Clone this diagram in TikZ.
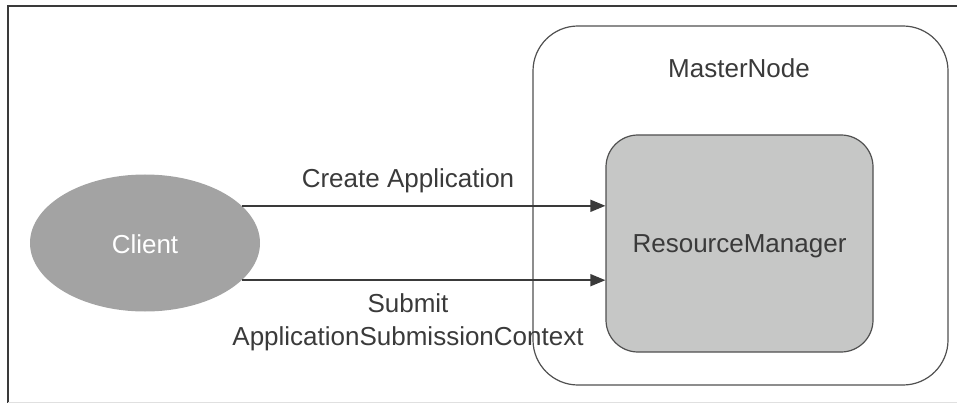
\documentclass[tikz,border=0pt]{standalone}
\usepackage{fontspec}
\setmainfont{Liberation Sans}
\usetikzlibrary{shapes.geometric,arrows.meta}
\definecolor{ink}{HTML}{3A3A3A}
\definecolor{edge}{HTML}{505050}
\definecolor{clientfill}{HTML}{A3A3A3}
\definecolor{rmfill}{HTML}{C6C7C6}
\tikzset{
  lbl/.style={font=\fontsize{26}{30}\selectfont, text=ink, inner sep=0pt, anchor=base},
  framebox/.style={draw=edge, line width=1.2pt, rounded corners=45pt},
  rmbox/.style={draw=edge, line width=1.2pt, fill=rmfill, rounded corners=32pt},
  clientshape/.style={ellipse, fill=clientfill, inner sep=0pt},
  msg/.style={draw=ink, line width=1.5pt, -{Triangle[length=15pt,width=12pt]}},
}
\begin{document}
\begin{tikzpicture}[x=1pt,y=-1pt]
\useasboundingbox (0,0) rectangle (957,403);
% page frame
\draw[line width=2pt, draw=ink] (957,6) -- (8,6) -- (8,403);
\draw[line width=0.8pt, draw=black!12] (8,402) -- (957,402);
% master node container and resource manager
\node[framebox, minimum width=415pt, minimum height=359pt] (master) at (740.5,205.5) {};
\node[lbl] (mastertitle) at (739,78) {MasterNode};
\node[rmbox, minimum width=267pt, minimum height=217pt] (rm) at (739.5,243.5) {};
\node[lbl] (rmtitle) at (739.5,252) {ResourceManager};
% client
\node[clientshape, minimum width=230pt, minimum height=137pt] (client) at (145,243) {};
\node[lbl, text=white] (clienttitle) at (145,253) {Client};
% messages
\draw[msg] (client.21.7) -- (client.21.7 -| rm.west);
\draw[msg] (client.-21.7) -- (client.-21.7 -| rm.west);
\node[lbl] (create) at (408,188) {Create Application};
\node[lbl] (submit) at (408,312) {Submit};
\node[lbl] (context) at (408,345) {ApplicationSubmissionContext};
\end{tikzpicture}
\end{document}
